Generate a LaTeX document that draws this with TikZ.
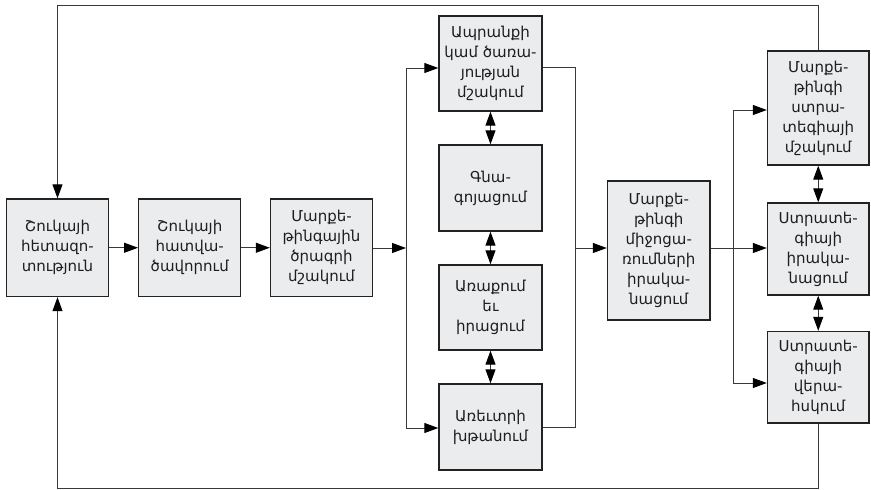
\documentclass[tikz,border=0pt]{standalone}
\usepackage{fontspec}
\setmainfont{DejaVu Sans}
\usetikzlibrary{arrows.meta}
\definecolor{boxfill}{HTML}{EBECEE}
\definecolor{boxline}{HTML}{222222}
\definecolor{conn}{HTML}{3A3A3A}
\definecolor{txt}{HTML}{1E1E1E}
\tikzset{
  blk/.style={draw=boxline, line width=1.4pt, fill=boxfill, inner sep=0pt, align=center,
    text=txt, font=\fontsize{15}{20}\selectfont, minimum width=#1},
  blk/.default=102pt,
  tip/.tip={Triangle[length=14pt,width=10pt,color=black]},
  conline/.style={draw=conn, line width=1pt},
  arr/.style={conline, -tip},
  darr/.style={conline, tip-tip},
}
\begin{document}
\begin{tikzpicture}[x=1pt,y=-1pt]
\useasboundingbox (0,0) rectangle (871,490);
% left chain
\node[blk, minimum height=97.5pt] (m1) at (57.5,247.75) {Շուկայի\\հետազո-\\տություն};
\node[blk, minimum height=97.5pt] (m2) at (189.75,247.75) {Շուկայի\\հատվա-\\ծավորում};
\node[blk, minimum height=97.5pt] (m3) at (321.5,247.75) {Մարքե-\\թինգային\\ծրագրի\\մշակում};
% center column
\node[blk=103pt, minimum height=95pt] (a) at (490.5,63.5) {Ապրանքի\\կամ ծառա-\\յության\\մշակում};
\node[blk=103pt, minimum height=86pt] (b) at (490.5,188) {Գնա-\\գոյացում};
\node[blk=103pt, minimum height=85pt] (c) at (490.5,307.5) {Առաքում\\եւ\\իրացում};
\node[blk=103pt, minimum height=86pt] (d) at (490.5,427) {Առեւտրի\\խթանում};
% middle
\node[blk=102.5pt, minimum height=139pt] (e) at (658.75,250.5) {Մարքե-\\թինգի\\միջոցա-\\ռումների\\իրակա-\\նացում};
% right column
\node[blk=101.5pt, minimum height=114pt] (f) at (818.25,108) {Մարքե-\\թինգի\\ստրա-\\տեգիայի\\մշակում};
\node[blk=101.5pt, minimum height=92pt] (g) at (818.25,249) {Ստրատե-\\գիայի\\իրակա-\\նացում};
\node[blk=101.5pt, minimum height=91.5pt] (h) at (818.25,377.25) {Ստրատե-\\գիայի\\վերա-\\հսկում};
% junction coordinates
\coordinate (jl1) at (406,68);
\coordinate (jl2) at (406,248);
\coordinate (jl3) at (406,428);
\coordinate (jr1) at (575,67);
\coordinate (jr2) at (575,248);
\coordinate (jr3) at (575,427);
\coordinate (jq1) at (733,110);
\coordinate (jq2) at (733,248);
\coordinate (jq3) at (733,383);
\coordinate (tl) at (57.5,5);
\coordinate (tr) at (818.5,5);
\coordinate (bl) at (57.5,488);
\coordinate (br) at (818.5,488);
% left chain arrows
\draw[arr] (m1) -- (m2);
\draw[arr] (m2) -- (m3);
\draw[arr] (m3.east |- jl2) -- (jl2);
\draw[conline] (jl1) -- (jl3);
\draw[arr] (jl1) -- (a.west |- jl1);
\draw[arr] (jl3) -- (d.west |- jl3);
% center column double arrows
\draw[darr] (a.south) -- (b.north);
\draw[darr] (b.south) -- (c.north);
\draw[darr] (c.south) -- (d.north);
% center to middle
\draw[conline] (a.east |- jr1) -- (jr1) -- (jr3) -- (d.east |- jr3);
\draw[arr] (jr2) -- (e.west |- jr2);
% middle to right
\draw[arr] (e.east |- jq2) -- (g.west |- jq2);
\draw[conline] (jq1) -- (jq3);
\draw[arr] (jq1) -- (f.west |- jq1);
\draw[arr] (jq3) -- (h.west |- jq3);
% right column double arrows
\draw[darr] (f.south) -- (g.north);
\draw[darr] (g.south) -- (h.north);
% feedback loops
\draw[arr] (f.north -| tr) -- (tr) -- (tl) -- (m1.north);
\draw[arr] (h.south -| br) -- (br) -- (bl) -- (m1.south);
\end{tikzpicture}
\end{document}
